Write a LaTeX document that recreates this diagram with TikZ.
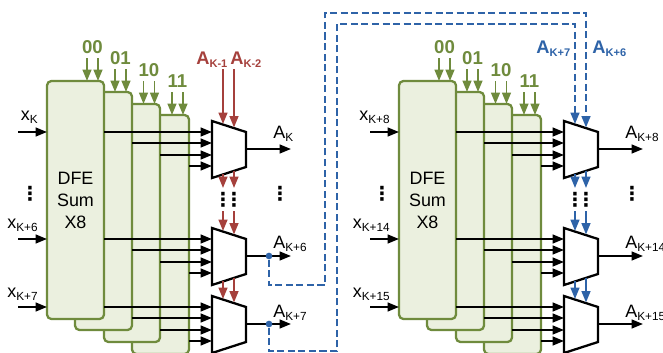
\documentclass[tikz,border=0pt]{standalone}
\usepackage{fontspec}
\setmainfont{Liberation Sans}
\newfontfamily\dotsfont{DejaVu Sans}
\usetikzlibrary{arrows.meta, calc}
\definecolor{dfegreen}{HTML}{6F8B3D}
\definecolor{dfefill}{HTML}{EBF0DF}
\definecolor{fbred}{HTML}{A5403C}
\definecolor{fbblue}{HTML}{2E63A8}
\newcommand{\subs}[1]{\raisebox{-2pt}{\fontsize{6.7}{8}\selectfont #1}}
\newcommand{\subsb}[1]{\raisebox{-2pt}{\fontsize{6.3}{8}\selectfont #1}}
\tikzset{
  dfebox/.style={draw=dfegreen, fill=dfefill, line width=1.3pt, rounded corners=2.5pt,
    inner sep=0pt, outer sep=0pt, anchor=north west},
  muxbody/.style={draw=black, fill=white, line width=1.3pt, line join=miter},
  sig/.style={-{Triangle[length=6.5pt,width=5pt]}, line width=1.1pt, black},
  ctl/.style={-{Triangle[length=6.5pt,width=5pt]}, line width=1.1pt, #1},
  fb/.style={-{Triangle[length=6.5pt,width=5pt]}, line width=1.15pt, fbblue, dash pattern=on 4pt off 2pt},
  lbl/.style={font=\fontsize{10.2}{12.5}\selectfont, inner sep=0pt},
  boldlbl/.style={font=\fontsize{10.4}{12.5}\selectfont\bfseries, inner sep=0pt, anchor=base west},
  sellbl/.style={font=\fontsize{10.6}{12.5}\selectfont\bfseries, text=dfegreen, inner sep=0pt},
  dotslbl/.style={font=\dotsfont\bfseries\fontsize{11}{11}\selectfont, inner sep=0pt},
  tapdot/.style={circle, fill=fbblue, inner sep=0pt, minimum size=3.8pt},
}
\begin{document}
\begin{tikzpicture}[x=0.02cm, y=-0.02cm]
  \clip (0,0) rectangle (663,352);
  % Two DFE blocks with their muxes
  \foreach \p/\dx/\clr in {l/0/fbred, r/352/fbblue} {
  \begin{scope}[shift={(\dx,0)}]
    % Stacked summers, rear one first
    \foreach \i/\xl/\xr/\yt/\yb/\xs/\sel in {4/132/189/115/354/177.5/11, 3/104/160/104/342/149/10, 2/75/132/92/330/120.5/01, 1/47/104/81/319/92.5/00} {
      \node[dfebox, minimum width={(\xr-\xl)*0.02cm}, minimum height={(\yb-\yt)*0.02cm}] (\p dfe\i) at (\xl,\yt) {};
      \node[sellbl, anchor=base] (\p sel\i) at (\xs,\yt-28) {\sel};
      \coordinate (\p s\i a) at (\xs-5.5,\yt-23);
      \coordinate (\p s\i b) at (\xs+5.5,\yt-23);
      \draw[ctl=dfegreen] (\p s\i a) -- (\p s\i a |- \p dfe\i.north);
      \draw[ctl=dfegreen] (\p s\i b) -- (\p s\i b |- \p dfe\i.north);
    }
    \node[lbl, align=center] (\p txt) at (\p dfe1) {DFE\\Sum\\X8};
    % Muxes
    \foreach \m/\y in {1/121, 2/228, 3/296} {
      \draw[muxbody] (212,\y) -- (246,\y+11) -- (246,\y+46) -- (212,\y+57) -- cycle;
      \coordinate (\p m\m o) at (246,\y+28);
      \coordinate (\p m\m e) at (291,\y+28);
      \coordinate (\p m\m ta) at (223,\y+3);
      \coordinate (\p m\m tb) at (234,\y+6.5);
      \coordinate (\p m\m ba) at (223,\y+53);
      \coordinate (\p m\m bb) at (234,\y+49.5);
      \draw[sig] (\p m\m o) -- (\p m\m e);
      \coordinate (\p in\m) at (18,\y+11);
      \draw[sig] (\p in\m) -- (\p in\m -| \p dfe1.west);
      \foreach \i/\dy in {1/11, 2/22, 3/34, 4/45} {
        \coordinate (\p m\m i\i) at (212,\y+\dy);
        \draw[sig] (\p dfe\i.east |- \p m\m i\i) -- (\p m\m i\i);
      }
    }
    % Decision feedback between muxes
    \coordinate (\p ga) at (223,188);
    \coordinate (\p gb) at (234,188);
    \coordinate (\p ha) at (223,211);
    \coordinate (\p hb) at (234,211);
    \draw[ctl=\clr] (\p m1ba) -- (\p ga);
    \draw[ctl=\clr] (\p m1bb) -- (\p gb);
    \draw[ctl=\clr] (\p ha) -- (\p m2ta);
    \draw[ctl=\clr] (\p hb) -- (\p m2tb);
    \draw[ctl=\clr] (\p m2ba) -- (\p m3ta);
    \draw[ctl=\clr] (\p m2bb) -- (\p m3tb);
    % Dots
    \node[dotslbl] (\p da) at (223,199.5) {⋮};
    \node[dotslbl] (\p db) at (234,199.5) {⋮};
    \node[dotslbl] (\p dc) at (30,194) {⋮};
    \node[dotslbl] (\p dd) at (280,194) {⋮};
  \end{scope}
  }
  % Input labels
  \node[lbl, anchor=base east] (xa) at (38,120) {x\subs{K}};
  \node[lbl, anchor=base east] (xb) at (38,228) {x\subs{K+6}};
  \node[lbl, anchor=base east] (xc) at (38,297) {x\subs{K+7}};
  \node[lbl, anchor=base east] (xd) at (390,120) {x\subs{K+8}};
  \node[lbl, anchor=base east] (xe) at (390,228) {x\subs{K+14}};
  \node[lbl, anchor=base east] (xf) at (390,297) {x\subs{K+15}};
  % Output labels
  \node[lbl, anchor=base west] (oa) at (273,138) {A\subs{K}};
  \node[lbl, anchor=base west] (ob) at (273,248) {A\subs{K+6}};
  \node[lbl, anchor=base west] (oc) at (273,317) {A\subs{K+7}};
  \node[lbl, anchor=base west] (od) at (625,138) {A\subs{K+8}};
  \node[lbl, anchor=base west] (oe) at (625,248) {A\subs{K+14}};
  \node[lbl, anchor=base west] (of) at (625,317) {A\subs{K+15}};
  % Red feedback
  \node[boldlbl, text=fbred] (ra) at (196,64) {A\subsb{K-1}};
  \node[boldlbl, text=fbred] (rb) at (230,64) {A\subsb{K-2}};
  \coordinate (rta) at (223,69);
  \coordinate (rtb) at (234,69);
  \draw[ctl=fbred] (rta) -- (lm1ta);
  \draw[ctl=fbred] (rtb) -- (lm1tb);
  % Blue feedback
  \node[boldlbl, text=fbblue] (ba) at (536,53) {A\subsb{K+7}};
  \node[boldlbl, text=fbblue] (bb) at (592,53) {A\subsb{K+6}};
  \node[tapdot] (tapb) at (269,256) {};
  \node[tapdot] (tapc) at (269,324) {};
  \draw[fb] (tapb) -- (269,285) -- (325,285) -- (325,13) -- (586,13) -- (rm1tb);
  \draw[fb] (tapc) -- (269,351) -- (337,351) -- (337,24) -- (575,24) -- (rm1ta);
\end{tikzpicture}
\end{document}
